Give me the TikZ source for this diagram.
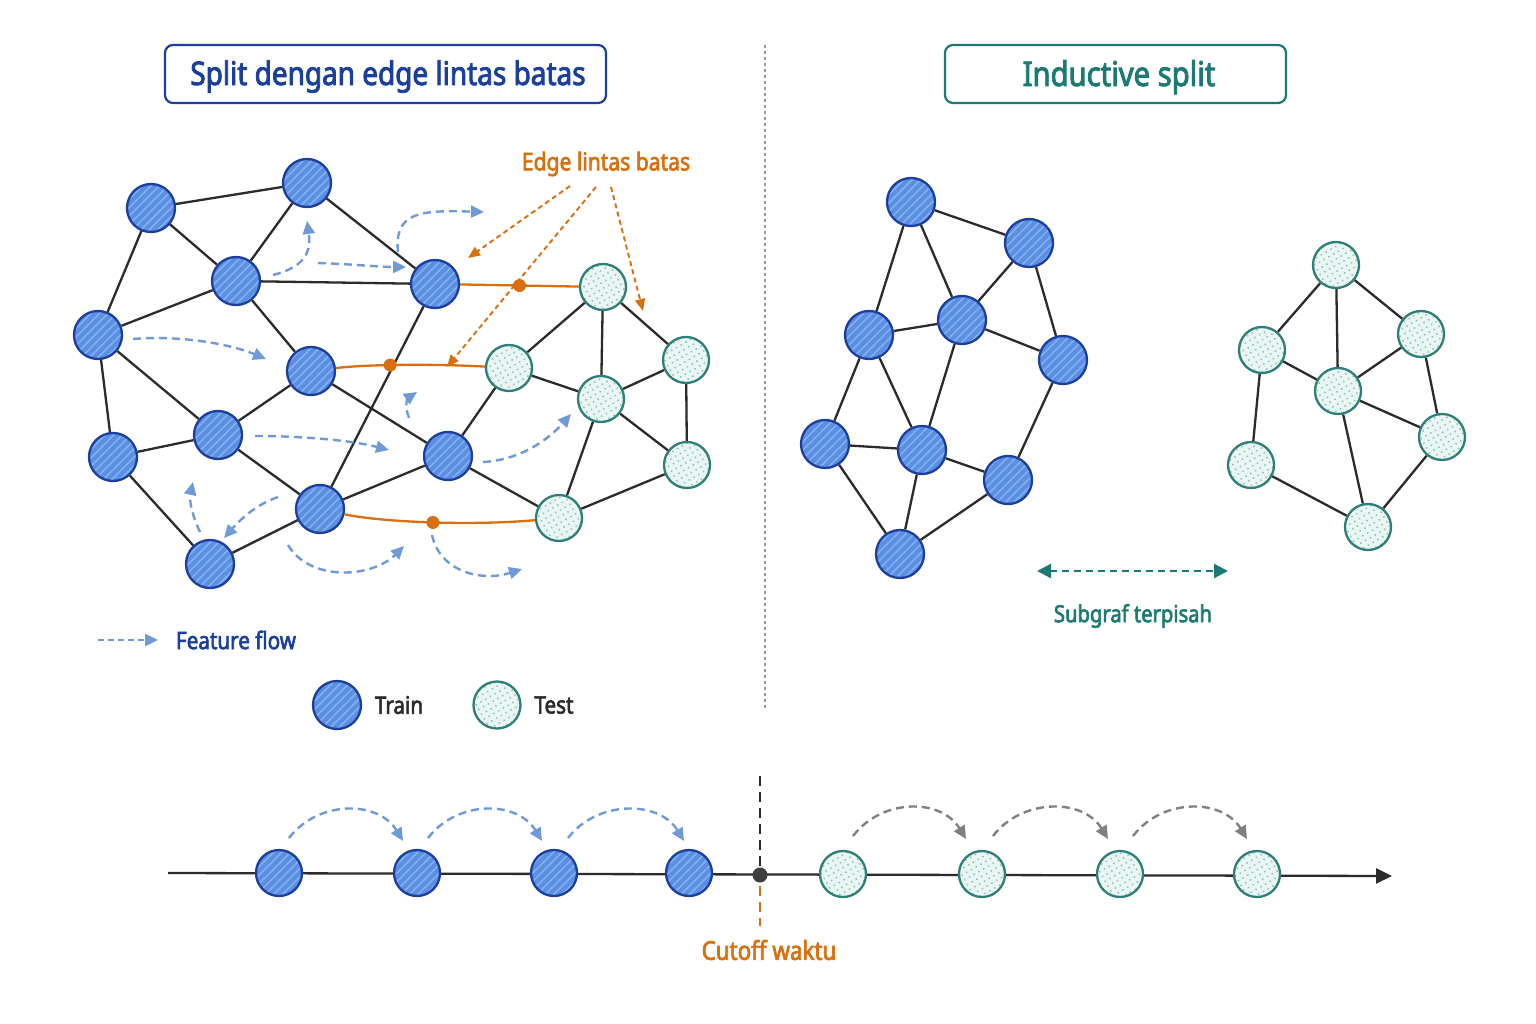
\documentclass[tikz,border=0pt]{standalone}
\usepackage{fontspec}
\setmainfont{Noto Sans}[FakeStretch=0.86, FakeBold=2.6]
\usetikzlibrary{arrows.meta,patterns.meta}
\definecolor{trainfill}{HTML}{5B8FE2}
\definecolor{trainstripe}{HTML}{82B0F2}
\definecolor{trainborder}{HTML}{1C3E9E}
\definecolor{testfill}{HTML}{EAF6F3}
\definecolor{testdot}{HTML}{86C4BA}
\definecolor{testborder}{HTML}{2E7F78}
\definecolor{orng}{HTML}{D9700F}
\definecolor{flowc}{HTML}{6E9BD8}
\definecolor{darkblue}{HTML}{1A3F9C}
\definecolor{tealtxt}{HTML}{1C7A72}
\definecolor{edgec}{HTML}{2B2B2B}
\definecolor{grayarc}{HTML}{808080}
\tikzset{
  train/.style={circle, draw=trainborder, line width=2.3pt, preaction={fill=trainfill},
    pattern={Lines[angle=45,distance=6pt,line width=1.6pt]}, pattern color=trainstripe,
    minimum size=48pt, inner sep=0pt},
  test/.style={circle, draw=testborder, line width=2.3pt, preaction={fill=testfill},
    pattern={Dots[radius=1.05pt,distance=5.5pt,angle=30]}, pattern color=testdot,
    minimum size=46pt, inner sep=0pt},
  gedge/.style={edgec, line width=2.3pt},
  oedge/.style={orng, line width=2.3pt},
  odot/.style={circle, fill=orng, minimum size=13pt, inner sep=0pt},
  flowarr/.style={flowc, line width=2.4pt, dash pattern=on 8pt off 5pt, -{Triangle[length=13pt,width=12pt]}},
  grayarr/.style={grayarc, line width=2.4pt, dash pattern=on 8pt off 5pt, -{Triangle[length=13pt,width=12pt]}},
  annarr/.style={orng, line width=1.9pt, dash pattern=on 5pt off 3.5pt, -{Triangle[length=12pt,width=10pt]}},
  lbl/.style={inner sep=0pt, font=\fontsize{24.5}{28}\selectfont},
  titlebox/.style={rounded corners=8pt, line width=2.2pt, minimum height=58pt, inner sep=0pt}
}
\begin{document}
\begin{tikzpicture}[x=1pt,y=-1pt]
\useasboundingbox (0,0) rectangle (1536,1024);
\fill[white] (0,0) rectangle (1536,1024);

% titles
\node[titlebox, draw=darkblue, minimum width=441pt] (title1) at (385.5,74) {};
\node[text=darkblue, font=\fontsize{32.5}{38}\selectfont, inner sep=0pt, anchor=base] (title1t) at (388,85) {Split dengan edge lintas batas};
\node[titlebox, draw=tealtxt, minimum width=341pt] (title2) at (1115.5,74) {};
\node[text=tealtxt, font=\fontsize{34}{38}\selectfont, inner sep=0pt, anchor=base] (title2t) at (1119,86) {Inductive split};

% divider
\coordinate (div1) at (765,45);
\coordinate (div2) at (765,710);
\draw[gray!80, line width=1.5pt, dash pattern=on 3pt off 3pt] (div1) -- (div2);

% ---------- left graph ----------
\node[train] (a1) at (151,208) {};
\node[train] (a2) at (307,183) {};
\node[train] (a3) at (236,281) {};
\node[train] (a4) at (435,284) {};
\node[train] (a5) at (98,335) {};
\node[train] (a6) at (311,371) {};
\node[train] (a7) at (218,435) {};
\node[train] (a8) at (113,457) {};
\node[train] (a9) at (448,456) {};
\node[train] (a10) at (320,509) {};
\node[train] (a11) at (210,564) {};
\node[test] (t1) at (603,287) {};
\node[test] (t2) at (509,368) {};
\node[test] (t3) at (601,399) {};
\node[test] (t4) at (686,360) {};
\node[test] (t5) at (687,465) {};
\node[test] (t6) at (559,518) {};

\foreach \u/\v in {a1/a2,a1/a3,a1/a5,a2/a3,a2/a4,a3/a4,a3/a5,a3/a6,a5/a7,a5/a8,a6/a7,a6/a9,a4/a10,a7/a10,a7/a8,a8/a11,a10/a11,a10/a9,a9/t2,a9/t6,
  t1/t2,t1/t3,t1/t4,t2/t3,t3/t4,t3/t5,t4/t5,t3/t6,t5/t6}
  \draw[gedge] (\u) -- (\v);

% cross-boundary edges
\draw[oedge] (a4) -- node[odot]{} (t1);
\draw[oedge] (a6) .. controls (370,364) and (440,364) .. node[odot,pos=0.4]{} (t2);
\draw[oedge] (a10) .. controls (380,522) and (470,526) .. node[odot,pos=0.52]{} (t6);

% annotation
\node[lbl, text=orng] (elb) at (606,164) {Edge lintas batas};
\coordinate (an1s) at (570,186); \coordinate (an1e) at (468,258);
\coordinate (an2s) at (596,187); \coordinate (an2e) at (447,367);
\coordinate (an3s) at (611,187); \coordinate (an3e) at (643,311);
\draw[annarr] (an1s) -- (an1e);
\draw[annarr] (an2s) -- (an2e);
\draw[annarr] (an3s) -- (an3e);

% feature flow arrows
\coordinate (f1s) at (273,275); \coordinate (f1e) at (307,221);
\coordinate (f2s) at (318,263); \coordinate (f2e) at (406,267);
\coordinate (f3s) at (398,252); \coordinate (f3e) at (484,212);
\coordinate (f4s) at (133,339); \coordinate (f4e) at (266,359);
\coordinate (f5s) at (409,418); \coordinate (f5e) at (417,392);
\coordinate (f6s) at (255,436); \coordinate (f6e) at (389,450);
\coordinate (f7s) at (483,462); \coordinate (f7e) at (571,414);
\coordinate (f8s) at (200,532); \coordinate (f8e) at (193,482);
\coordinate (f9s) at (278,497); \coordinate (f9e) at (224,538);
\coordinate (f10s) at (288,545); \coordinate (f10e) at (404,546);
\coordinate (f11s) at (432,535); \coordinate (f11e) at (522,569);
\draw[flowarr] (f1s) .. controls (300,268) and (312,256) .. (f1e);
\draw[flowarr] (f2s) .. controls (350,264) and (380,267) .. (f2e);
\draw[flowarr] (f3s) .. controls (394,212) and (420,210) .. (f3e);
\draw[flowarr] (f4s) .. controls (180,335) and (230,344) .. (f4e);
\draw[flowarr] (f5s) .. controls (404,405) and (408,398) .. (f5e);
\draw[flowarr] (f6s) .. controls (300,436) and (350,440) .. (f6e);
\draw[flowarr] (f7s) .. controls (520,460) and (548,440) .. (f7e);
\draw[flowarr] (f8s) .. controls (192,515) and (189,500) .. (f8e);
\draw[flowarr] (f9s) .. controls (255,505) and (240,520) .. (f9e);
\draw[flowarr] (f10s) .. controls (310,582) and (372,578) .. (f10e);
\draw[flowarr] (f11s) .. controls (440,572) and (482,582) .. (f11e);

% legend
\coordinate (lg1) at (98,640); \coordinate (lg2) at (158,640);
\draw[flowc, line width=2.4pt, dash pattern=on 6pt off 4pt, -{Triangle[length=13pt,width=12pt]}] (lg1) -- (lg2);
\node[lbl, text=darkblue, font=\fontsize{24}{28}\selectfont] (lgt) at (236,640) {Feature flow};
\node[train] (lgtrain) at (337,705) {};
\node[lbl, text=edgec, font=\fontsize{24}{28}\selectfont] (lgtraint) at (399,705) {Train};
\node[test, minimum size=47pt] (lgtest) at (497,705) {};
\node[lbl, text=edgec, font=\fontsize{24}{28}\selectfont] (lgtestt) at (554,705) {Test};

% ---------- right: inductive split ----------
\node[train] (b1) at (911,202) {};
\node[train] (b2) at (1029,243) {};
\node[train] (b3) at (869,335) {};
\node[train] (b4) at (962,320) {};
\node[train] (b5) at (1063,360) {};
\node[train] (b6) at (825,444) {};
\node[train] (b7) at (922,450) {};
\node[train] (b8) at (1008,480) {};
\node[train] (b9) at (900,554) {};
\foreach \u/\v in {b1/b2,b1/b3,b1/b4,b2/b4,b2/b5,b3/b4,b4/b5,b3/b6,b3/b7,b4/b7,b6/b7,b7/b8,b5/b8,b6/b9,b7/b9,b8/b9}
  \draw[gedge] (\u) -- (\v);

\node[test] (c1) at (1336,265) {};
\node[test] (c2) at (1262,350) {};
\node[test] (c3) at (1421,334) {};
\node[test] (c4) at (1338,391) {};
\node[test] (c5) at (1442,437) {};
\node[test] (c6) at (1251,465) {};
\node[test] (c7) at (1368,527) {};
\foreach \u/\v in {c1/c2,c1/c4,c1/c3,c2/c4,c3/c4,c3/c5,c4/c5,c2/c6,c4/c7,c5/c7,c6/c7}
  \draw[gedge] (\u) -- (\v);

\coordinate (s1) at (1037,571); \coordinate (s2) at (1228,571);
\draw[tealtxt, line width=2.2pt, dash pattern=on 7pt off 5pt, {Triangle[length=14pt,width=14pt]}-{Triangle[length=14pt,width=14pt]}] (s1) -- (s2);
\node[lbl, text=tealtxt, font=\fontsize{23.5}{28}\selectfont] (sublbl) at (1133,616) {Subgraf terpisah};

% ---------- timeline ----------
\coordinate (tl0) at (168,873);
\coordinate (tl1) at (1392,876);
\draw[edgec, line width=2.3pt, -{Triangle[length=16pt,width=15pt]}] (tl0) -- (tl1);
\coordinate (cut1) at (760,776); \coordinate (cut2) at (760,866);
\coordinate (cut3) at (760,886); \coordinate (cut4) at (760,926);
\draw[edgec, line width=2.4pt, dash pattern=on 10pt off 6pt] (cut1) -- (cut2);
\draw[orng, line width=2.4pt, dash pattern=on 10pt off 6pt] (cut3) -- (cut4);
\node[circle, fill=edgec!90, minimum size=15pt, inner sep=0pt] (cutdot) at (760,875) {};
\node[lbl, text=orng, font=\fontsize{26}{30}\selectfont] (cutlbl) at (769,950) {Cutoff waktu};

\node[train, minimum size=46pt] (l1) at (279,873) {};
\node[train, minimum size=46pt] (l2) at (417,873) {};
\node[train, minimum size=46pt] (l3) at (554,873) {};
\node[train, minimum size=46pt] (l4) at (689,873) {};
\node[test] (r1) at (843,874) {};
\node[test] (r2) at (982,874) {};
\node[test] (r3) at (1120,874) {};
\node[test] (r4) at (1257,874) {};

\coordinate (la1) at (289,838); \coordinate (lb1) at (403,841);
\coordinate (la2) at (428,838); \coordinate (lb2) at (542,841);
\coordinate (la3) at (568,838); \coordinate (lb3) at (684,841);
\draw[flowarr] (la1) .. controls (318,800) and (378,800) .. (lb1);
\draw[flowarr] (la2) .. controls (457,800) and (517,800) .. (lb2);
\draw[flowarr] (la3) .. controls (597,800) and (659,800) .. (lb3);
\coordinate (ra1) at (853,836); \coordinate (rb1) at (966,839);
\coordinate (ra2) at (993,836); \coordinate (rb2) at (1108,839);
\coordinate (ra3) at (1133,836); \coordinate (rb3) at (1247,839);
\draw[grayarr] (ra1) .. controls (882,798) and (941,798) .. (rb1);
\draw[grayarr] (ra2) .. controls (1022,798) and (1083,798) .. (rb2);
\draw[grayarr] (ra3) .. controls (1162,798) and (1222,798) .. (rb3);
\end{tikzpicture}
\end{document}
